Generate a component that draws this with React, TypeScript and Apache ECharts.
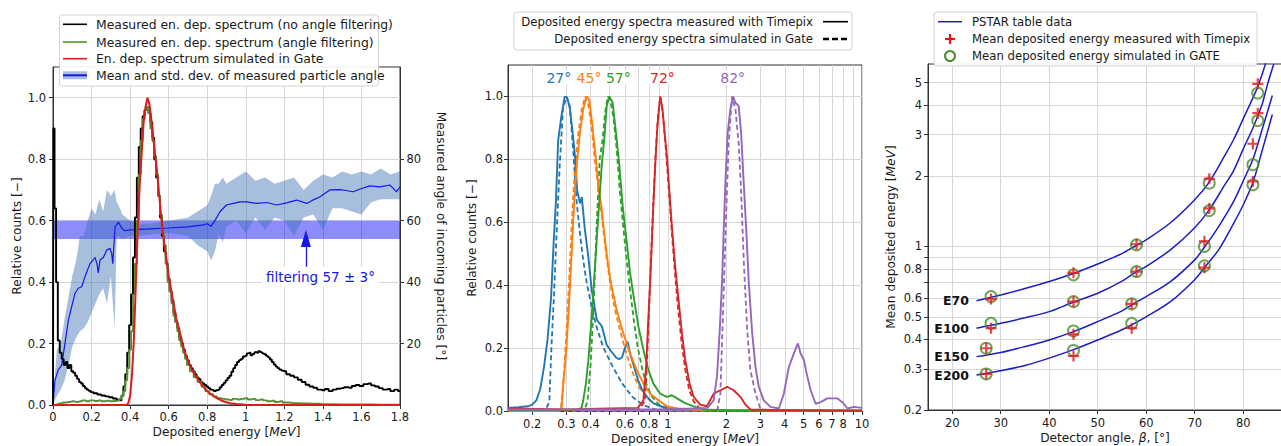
import React, { useEffect, useRef } from "react";
import * as echarts from "echarts";

const FONT = "DejaVu Sans";
const TXT = "#1a1a1a";
const GRIDC = "#d6d6d6";
const AX = "#333333";

// ---------------- Panel 1 data ----------------
const spectrumNoFilter: [number, number][] = [
  [0, 0], [0.004, 0.9], [0.012, 0.64], [0.02, 0.4], [0.03, 0.21], [0.04, 0.17], [0.05, 0.15], [0.06, 0.13], [0.07, 0.14], [0.08, 0.12],
  [0.09, 0.13], [0.1, 0.11], [0.11, 0.105], [0.12, 0.095], [0.13, 0.085], [0.14, 0.075], [0.15, 0.07], [0.16, 0.062], [0.17, 0.055], [0.18, 0.05],
  [0.19, 0.046], [0.2, 0.042], [0.22, 0.038], [0.24, 0.034], [0.26, 0.031], [0.28, 0.028], [0.3, 0.025], [0.32, 0.021], [0.34, 0.017], [0.35, 0.015],
  [0.36, 0.03], [0.37, 0.06], [0.38, 0.1], [0.39, 0.17], [0.4, 0.26], [0.41, 0.36], [0.42, 0.48], [0.43, 0.61], [0.44, 0.74], [0.45, 0.84],
  [0.46, 0.9], [0.47, 0.94], [0.48, 0.96], [0.49, 0.97], [0.5, 0.95], [0.51, 0.92], [0.52, 0.87], [0.53, 0.8], [0.54, 0.74], [0.55, 0.68],
  [0.56, 0.61], [0.57, 0.55], [0.58, 0.5], [0.59, 0.46], [0.6, 0.41], [0.61, 0.37], [0.62, 0.34], [0.63, 0.3], [0.64, 0.27], [0.65, 0.25],
  [0.66, 0.22], [0.67, 0.2], [0.68, 0.18], [0.69, 0.16], [0.7, 0.145], [0.71, 0.13], [0.72, 0.12], [0.73, 0.11], [0.74, 0.1], [0.75, 0.09],
  [0.76, 0.085], [0.77, 0.075], [0.78, 0.07], [0.79, 0.065], [0.8, 0.06], [0.81, 0.055], [0.82, 0.05], [0.83, 0.048], [0.84, 0.045], [0.85, 0.048],
  [0.86, 0.05], [0.87, 0.058], [0.88, 0.065], [0.89, 0.072], [0.9, 0.08], [0.91, 0.088], [0.92, 0.095], [0.93, 0.108], [0.94, 0.12], [0.95, 0.13],
  [0.96, 0.14], [0.97, 0.146], [0.98, 0.15], [0.99, 0.158], [1.0, 0.16], [1.01, 0.168], [1.02, 0.17], [1.03, 0.162], [1.04, 0.166], [1.05, 0.172],
  [1.06, 0.17], [1.07, 0.175], [1.08, 0.172], [1.09, 0.168], [1.1, 0.165], [1.11, 0.16], [1.12, 0.155], [1.13, 0.148], [1.14, 0.14], [1.15, 0.132],
  [1.16, 0.125], [1.17, 0.12], [1.18, 0.115], [1.19, 0.112], [1.2, 0.11], [1.22, 0.1], [1.24, 0.095], [1.26, 0.09], [1.28, 0.082], [1.3, 0.075],
  [1.32, 0.066], [1.34, 0.06], [1.36, 0.056], [1.38, 0.05], [1.4, 0.048], [1.42, 0.052], [1.44, 0.045], [1.46, 0.05], [1.48, 0.053], [1.5, 0.055],
  [1.52, 0.058], [1.54, 0.056], [1.56, 0.062], [1.58, 0.065], [1.6, 0.062], [1.62, 0.068], [1.64, 0.07], [1.66, 0.064], [1.68, 0.06], [1.7, 0.055],
  [1.72, 0.05], [1.74, 0.052], [1.76, 0.045], [1.78, 0.05], [1.8, 0.045],
];

const spectrumAngleFilter: [number, number][] = [
  [0, 0], [0.02, 0.002], [0.04, 0.005], [0.06, 0.008], [0.08, 0.01], [0.1, 0.012], [0.12, 0.01], [0.14, 0.012], [0.16, 0.015], [0.18, 0.012],
  [0.2, 0.015], [0.22, 0.013], [0.24, 0.015], [0.26, 0.012], [0.28, 0.014], [0.3, 0.012], [0.32, 0.013], [0.34, 0.015], [0.35, 0.02], [0.36, 0.03],
  [0.37, 0.045], [0.38, 0.08], [0.39, 0.12], [0.4, 0.18], [0.41, 0.24], [0.42, 0.36], [0.43, 0.46], [0.44, 0.6], [0.45, 0.75], [0.46, 0.86],
  [0.47, 0.93], [0.48, 0.96], [0.49, 0.97], [0.5, 0.95], [0.51, 0.9], [0.52, 0.86], [0.53, 0.81], [0.54, 0.75], [0.55, 0.68], [0.56, 0.62],
  [0.57, 0.56], [0.58, 0.52], [0.59, 0.46], [0.6, 0.4], [0.61, 0.37], [0.62, 0.33], [0.63, 0.29], [0.64, 0.27], [0.65, 0.24], [0.66, 0.21],
  [0.67, 0.19], [0.68, 0.17], [0.69, 0.15], [0.7, 0.13], [0.72, 0.11], [0.74, 0.09], [0.76, 0.075], [0.78, 0.06], [0.8, 0.045], [0.82, 0.035],
  [0.84, 0.028], [0.86, 0.022], [0.88, 0.02], [0.9, 0.018], [0.92, 0.016], [0.94, 0.02], [0.96, 0.018], [0.98, 0.02], [1.0, 0.022], [1.02, 0.018],
  [1.04, 0.02], [1.06, 0.016], [1.08, 0.018], [1.1, 0.015], [1.12, 0.012], [1.14, 0.014], [1.16, 0.01], [1.18, 0.012], [1.2, 0.008], [1.25, 0.006],
  [1.3, 0.005], [1.35, 0.004], [1.4, 0.003], [1.5, 0.002], [1.6, 0.002], [1.7, 0.001], [1.8, 0.001],
];

const spectrumSimulated: [number, number][] = [
  [0, 0], [0.38, 0], [0.39, 0.005], [0.4, 0.03], [0.41, 0.1], [0.42, 0.22], [0.43, 0.4], [0.44, 0.58], [0.45, 0.72], [0.46, 0.82],
  [0.47, 0.92], [0.48, 0.97], [0.49, 1.0], [0.5, 0.98], [0.51, 0.93], [0.52, 0.87], [0.53, 0.81], [0.54, 0.76], [0.55, 0.69], [0.56, 0.62],
  [0.57, 0.56], [0.58, 0.51], [0.59, 0.47], [0.6, 0.42], [0.62, 0.35], [0.64, 0.28], [0.66, 0.23], [0.68, 0.18], [0.7, 0.145], [0.72, 0.115],
  [0.74, 0.095], [0.76, 0.075], [0.78, 0.06], [0.8, 0.045], [0.82, 0.035], [0.84, 0.026], [0.86, 0.019], [0.88, 0.013], [0.9, 0.009], [0.92, 0.006],
  [0.95, 0.003], [1.0, 0.001], [1.05, 0], [1.8, 0],
];

const angleMean: [number, number][] = [
  [0, 0], [0.01, 8], [0.027, 11.4], [0.045, 13], [0.062, 20], [0.08, 27.7], [0.097, 32], [0.114, 36.3], [0.131, 38], [0.149, 38.5],
  [0.166, 41.8], [0.192, 46], [0.209, 47.2], [0.218, 48], [0.228, 46], [0.235, 43], [0.244, 47.2], [0.261, 48], [0.278, 50.4], [0.296, 51],
  [0.305, 49], [0.31, 46], [0.316, 52], [0.322, 58], [0.34, 59.5], [0.356, 57.6], [0.373, 56.7], [0.4, 57], [0.5, 57.3], [0.6, 57.6],
  [0.7, 58], [0.78, 58.6], [0.8, 59], [0.82, 58.2], [0.84, 60], [0.866, 62.9], [0.9, 65.1], [0.935, 65.6], [0.97, 66.1], [1.005, 66.1],
  [1.057, 65.6], [1.109, 65.9], [1.16, 65.1], [1.212, 65.8], [1.264, 66.7], [1.316, 65.6], [1.342, 66.5], [1.385, 67.8], [1.436, 70], [1.488, 70.1],
  [1.52, 69.8], [1.557, 69.4], [1.59, 70.2], [1.644, 71.3], [1.696, 71], [1.747, 71.6], [1.765, 70.5], [1.782, 69.4], [1.8, 71],
];

const angleBandE = [0, 0.02, 0.04, 0.06, 0.08, 0.1, 0.12, 0.14, 0.16, 0.18, 0.2, 0.22, 0.24, 0.26, 0.28, 0.3, 0.32, 0.33, 0.34, 0.36, 0.4, 0.45, 0.5, 0.6, 0.7, 0.75, 0.8, 0.82, 0.84, 0.86, 0.88, 0.9, 0.95, 1.0, 1.05, 1.1, 1.15, 1.2, 1.25, 1.3, 1.35, 1.4, 1.45, 1.5, 1.55, 1.6, 1.65, 1.7, 1.75, 1.8];
const angleBandUpper = [2, 18, 20, 28, 35, 42, 47, 55, 55, 60, 64, 62, 67, 63, 70, 68, 70, 66, 65, 62, 60, 59, 59, 60, 61, 63, 65, 68, 72, 72, 74, 72, 74, 76, 73, 74, 72, 73, 74, 70, 73, 75, 74, 76, 75, 76, 75, 77, 75, 76];
const angleBandLower = [0, 3, 5, 8, 13, 19, 22, 24, 25, 27, 30, 33, 36, 38, 33, 42, 25, 55, 55, 54, 55, 55, 55.5, 56, 55, 52, 50, 47, 50, 56, 53, 58, 60, 56, 61, 57, 61, 60, 55, 61, 62, 57, 64, 64, 63, 62, 66, 67, 67, 67];

const filterBand = [54, 60];
const p1XTicks = [0, 0.2, 0.4, 0.6, 0.8, 1, 1.2, 1.4, 1.6, 1.8];
const p1YTicks = [0, 0.2, 0.4, 0.6, 0.8, 1.0];
const p1AngleTicks = [20, 40, 60, 80];

// ---------------- Panel 2 data ----------------
const angleNames = ["27°", "45°", "57°", "72°", "82°"];
const angleColors = ["#1f77b4", "#ff7f0e", "#2ca02c", "#d62728", "#9467bd"];
const peakEnergies = [0.274, 0.392, 0.555, 0.937, 2.157];

const meas27: [number, number][] = [
  [0.15, 0.01], [0.17, 0.012], [0.19, 0.015], [0.2, 0.02], [0.21, 0.034], [0.22, 0.07], [0.23, 0.14], [0.24, 0.23], [0.25, 0.36], [0.258, 0.54],
  [0.265, 0.67], [0.272, 0.86], [0.283, 0.94], [0.294, 1.0], [0.303, 0.995], [0.313, 0.96], [0.323, 0.885], [0.332, 0.81], [0.341, 0.7], [0.352, 0.66],
  [0.36, 0.68], [0.373, 0.58], [0.389, 0.49], [0.405, 0.385], [0.43, 0.29], [0.456, 0.27], [0.47, 0.24], [0.484, 0.21], [0.51, 0.19], [0.54, 0.17],
  [0.56, 0.165], [0.58, 0.17], [0.6, 0.2], [0.62, 0.22], [0.64, 0.18], [0.67, 0.14], [0.7, 0.1], [0.74, 0.065], [0.78, 0.045], [0.84, 0.025],
  [0.92, 0.015], [1.0, 0.01], [1.2, 0.006], [1.5, 0.004], [2.0, 0.003], [3, 0.002], [5, 0.001], [10, 0.001],
];
const sim27: [number, number][] = [
  [0.15, 0], [0.22, 0], [0.235, 0.005], [0.245, 0.03], [0.251, 0.2], [0.258, 0.35], [0.267, 0.566], [0.277, 0.78], [0.288, 0.96], [0.3, 1.0],
  [0.312, 0.97], [0.325, 0.83], [0.338, 0.67], [0.352, 0.566], [0.366, 0.48], [0.381, 0.41], [0.405, 0.33], [0.429, 0.268], [0.463, 0.204], [0.52, 0.14],
  [0.582, 0.087], [0.656, 0.045], [0.74, 0.02], [0.86, 0.005], [1.0, 0], [10, 0],
];
const meas45: [number, number][] = [
  [0.15, 0], [0.27, 0], [0.283, 0.005], [0.289, 0.087], [0.3, 0.2], [0.31, 0.35], [0.319, 0.5], [0.328, 0.65], [0.339, 0.78], [0.352, 0.885],
  [0.366, 0.96], [0.381, 1.0], [0.393, 0.99], [0.405, 0.925], [0.421, 0.83], [0.438, 0.72], [0.456, 0.64], [0.474, 0.545], [0.493, 0.46], [0.513, 0.395],
  [0.545, 0.32], [0.589, 0.247], [0.638, 0.183], [0.691, 0.13], [0.748, 0.087], [0.81, 0.055], [0.894, 0.034], [0.988, 0.015], [1.11, 0.008], [1.5, 0.003],
  [10, 0.001],
];
const sim45: [number, number][] = [
  [0.15, 0], [0.28, 0], [0.29, 0.1], [0.3, 0.25], [0.31, 0.42], [0.32, 0.6], [0.33, 0.75], [0.345, 0.88], [0.36, 0.96], [0.375, 1.0],
  [0.39, 0.97], [0.405, 0.9], [0.42, 0.8], [0.44, 0.7], [0.46, 0.6], [0.48, 0.5], [0.5, 0.42], [0.53, 0.33], [0.57, 0.25], [0.62, 0.17],
  [0.67, 0.11], [0.72, 0.07], [0.8, 0.035], [0.9, 0.015], [1.0, 0.005], [1.2, 0], [10, 0],
];
const meas57: [number, number][] = [
  [0.15, 0.002], [0.34, 0.003], [0.359, 0.01], [0.366, 0.034], [0.378, 0.087], [0.389, 0.16], [0.405, 0.3], [0.421, 0.46], [0.438, 0.62], [0.456, 0.78],
  [0.47, 0.864], [0.484, 0.97], [0.499, 1.0], [0.519, 0.98], [0.54, 0.885], [0.562, 0.78], [0.585, 0.65], [0.614, 0.535], [0.638, 0.44], [0.67, 0.353],
  [0.705, 0.268], [0.748, 0.194], [0.794, 0.13], [0.842, 0.087], [0.912, 0.055], [0.988, 0.045], [1.048, 0.05], [1.113, 0.04], [1.228, 0.025], [1.356, 0.015],
  [1.527, 0.005], [2, 0.002], [10, 0.001],
];
const sim57: [number, number][] = [
  [0.15, 0], [0.37, 0], [0.385, 0.03], [0.4, 0.15], [0.415, 0.35], [0.43, 0.6], [0.445, 0.8], [0.46, 0.86], [0.475, 0.95], [0.49, 1.0],
  [0.505, 0.99], [0.525, 0.93], [0.545, 0.83], [0.565, 0.7], [0.59, 0.58], [0.615, 0.47], [0.64, 0.38], [0.67, 0.28], [0.7, 0.2], [0.74, 0.13],
  [0.78, 0.08], [0.83, 0.045], [0.9, 0.02], [1.0, 0.005], [1.1, 0], [10, 0],
];
const meas72: [number, number][] = [
  [0.15, 0.008], [0.3, 0.005], [0.5, 0.008], [0.7, 0.01], [0.748, 0.034], [0.772, 0.14], [0.794, 0.3], [0.817, 0.46], [0.837, 0.62], [0.86, 0.78],
  [0.883, 0.906], [0.912, 1.0], [0.9375, 0.96], [0.96, 0.89], [0.988, 0.81], [1.019, 0.694], [1.048, 0.587], [1.09, 0.46], [1.134, 0.353], [1.181, 0.247],
  [1.228, 0.162], [1.293, 0.087], [1.356, 0.045], [1.468, 0.02], [1.59, 0.015], [1.72, 0.055], [1.863, 0.066], [2.018, 0.077], [2.18, 0.066], [2.364, 0.045],
  [2.51, 0.02], [2.66, 0.005], [3.5, 0.003], [10, 0.001],
];
const sim72: [number, number][] = [
  [0.15, 0], [0.7, 0], [0.76, 0.03], [0.78, 0.15], [0.8, 0.33], [0.82, 0.5], [0.84, 0.66], [0.865, 0.82], [0.89, 0.94], [0.915, 1.0],
  [0.94, 0.95], [0.965, 0.87], [0.99, 0.78], [1.02, 0.67], [1.05, 0.56], [1.09, 0.43], [1.13, 0.32], [1.18, 0.21], [1.23, 0.13], [1.29, 0.065],
  [1.36, 0.03], [1.45, 0.01], [1.6, 0.002], [2, 0], [10, 0],
];
const meas82: [number, number][] = [
  [0.15, 0.005], [1.0, 0.005], [1.6, 0.01], [1.72, 0.034], [1.79, 0.11], [1.847, 0.25], [1.9, 0.41], [1.937, 0.566], [1.977, 0.725], [2.032, 0.885],
  [2.099, 0.96], [2.166, 1.0], [2.227, 0.98], [2.316, 0.97], [2.383, 0.885], [2.458, 0.725], [2.538, 0.566], [2.609, 0.41], [2.716, 0.25], [2.826, 0.14],
  [2.939, 0.077], [3.119, 0.034], [3.378, 0.013], [3.727, 0.008], [3.957, 0.055], [4.199, 0.14], [4.457, 0.183], [4.674, 0.215], [4.827, 0.183], [5.019, 0.162],
  [5.226, 0.11], [5.438, 0.066], [5.77, 0.023], [6.123, 0.028], [6.632, 0.04], [7.47, 0.04], [7.93, 0.028], [8.41, 0.008], [9.1, 0.013], [10, 0.01],
];
const sim82: [number, number][] = [
  [0.15, 0], [1.5, 0], [1.8, 0.005], [1.863, 0.056], [1.937, 0.375], [2.0, 0.64], [2.057, 0.854], [2.14, 1.0], [2.227, 0.96], [2.316, 0.85],
  [2.383, 0.7], [2.458, 0.48], [2.56, 0.26], [2.66, 0.13], [2.826, 0.056], [3.0, 0.005], [3.5, 0], [10, 0],
];
const measuredSpectra = [meas27, meas45, meas57, meas72, meas82];
const simulatedSpectra = [sim27, sim45, sim57, sim72, sim82];
const p2GridE = [0.2, 0.3, 0.4, 0.5, 0.6, 0.7, 0.8, 0.9, 1, 2, 3, 4, 5, 6, 7, 8, 9, 10];
const p2LabelE = [0.2, 0.3, 0.4, 0.6, 0.8, 1, 2, 3, 4, 5, 6, 7, 8, 10];

// ---------------- Panel 3 data ----------------
const curveNames = ["E70", "E100", "E150", "E200"];
const pstarE70: [number, number][] = [
  [25, 0.585], [30, 0.62], [35, 0.66], [40, 0.707], [45, 0.765], [50, 0.84], [55, 0.93], [58, 1.01], [60, 1.065], [65, 1.26],
  [70, 1.58], [73, 1.88], [76, 2.4], [78, 2.85], [80, 3.5], [82, 4.3], [83, 4.8], [84, 5.5], [84.8, 6.2],
];
const pstarE100: [number, number][] = [
  [25, 0.447], [30, 0.469], [35, 0.495], [40, 0.526], [45, 0.578], [50, 0.63], [55, 0.71], [58, 0.78], [60, 0.82], [65, 0.966],
  [70, 1.2], [73, 1.43], [76, 1.8], [78, 2.1], [80, 2.6], [82, 3.2], [83, 3.6], [84, 4.1], [85, 4.9], [86.3, 6.0],
];
const pstarE150: [number, number][] = [
  [25, 0.338], [30, 0.352], [35, 0.373], [40, 0.398], [45, 0.432], [50, 0.477], [55, 0.53], [57, 0.562], [60, 0.61], [65, 0.707],
  [70, 0.875], [72, 0.99], [75, 1.22], [78, 1.55], [80, 1.9], [82, 2.35], [84, 3.2], [86, 4.4],
];
const pstarE200: [number, number][] = [
  [25, 0.282], [30, 0.294], [35, 0.31], [40, 0.333], [45, 0.362], [50, 0.398], [55, 0.44], [57, 0.462], [60, 0.5], [65, 0.58],
  [70, 0.72], [72, 0.81], [75, 0.97], [78, 1.25], [80, 1.5], [82, 1.87], [84, 2.6], [86, 3.65],
];
const pstarCurves = [pstarE70, pstarE100, pstarE150, pstarE200];

const measuredMean: [number, number][] = [
  [28, 0.595], [45, 0.77], [58, 1.02], [73, 1.94], [83, 4.94],
  [28, 0.447], [45, 0.58], [58, 0.78], [73, 1.45], [83, 3.7],
  [27, 0.367], [45, 0.421], [57, 0.568], [72, 1.05], [82, 2.74],
  [27, 0.285], [45, 0.34], [57, 0.447], [72, 0.81], [82, 1.89],
];
const simulatedMean: [number, number][] = [
  [28, 0.61], [45, 0.755], [58, 1.014], [73, 1.86], [83, 4.51],
  [28, 0.469], [45, 0.58], [58, 0.78], [73, 1.42], [83, 3.44],
  [27, 0.367], [45, 0.435], [57, 0.568], [72, 0.998], [82, 2.23],
  [27, 0.285], [45, 0.359], [57, 0.469], [72, 0.825], [82, 1.83],
];
const p3XTicks = [20, 30, 40, 50, 60, 70, 80];
const p3GridE = [0.2, 0.3, 0.4, 0.5, 0.6, 0.7, 0.8, 0.9, 1, 2, 3, 4, 5];
const p3LabelE = [0.2, 0.3, 0.4, 0.5, 0.6, 0.8, 1, 2, 3, 4, 5];

// ---------------- helpers ----------------
const lg = (v: number) => Math.log10(v);
const fmtLog = (v: number) => {
  const e = Math.pow(10, v);
  if (e < 0.95) return String(Math.round(e * 10) / 10);
  return String(Math.round(e));
};
const tickLabel = (extra: any = {}) => ({ fontFamily: FONT, fontSize: 11.5, color: TXT, ...extra });
const nameStyle = {
  fontFamily: FONT,
  fontSize: 12.2,
  color: TXT,
  rich: {
    a: { fontFamily: FONT, fontSize: 12.2, color: TXT },
    b: { fontFamily: FONT, fontSize: 12.2, color: TXT, fontStyle: "italic" },
  },
};
const axisCommon = {
  type: "value",
  axisLine: { show: true, onZero: false, lineStyle: { color: AX, width: 1 } },
  nameLocation: "middle",
  nameTextStyle: nameStyle,
  nameMoveOverlap: false,
};

function buildOption(): any {
  const P1_BLUE = "#1616e8";
  const series: any[] = [];

  // ---- Panel 1 ----
  series.push({
    type: "custom",
    xAxisIndex: 0,
    yAxisIndex: 1,
    z: 1,
    silent: true,
    data: [[0, 0]],
    renderItem: (params: any, api: any) => {
      if (params.dataIndex !== 0) return null;
      const pts: number[][] = [];
      for (let i = 0; i < angleBandE.length; i++) pts.push(api.coord([angleBandE[i], angleBandUpper[i]]));
      for (let i = angleBandE.length - 1; i >= 0; i--) pts.push(api.coord([angleBandE[i], angleBandLower[i]]));
      return { type: "polygon", shape: { points: pts }, style: { fill: "rgba(60,110,180,0.45)" } };
    },
  });
  series.push({
    type: "line",
    name: "angle",
    xAxisIndex: 0,
    yAxisIndex: 1,
    z: 3,
    symbol: "none",
    data: angleMean,
    lineStyle: { color: P1_BLUE, width: 1.2 },
    markArea: {
      silent: true,
      itemStyle: { color: "rgba(0,0,255,0.45)" },
      data: [[{ yAxis: filterBand[0] }, { yAxis: filterBand[1] }]],
    },
    markLine: {
      silent: true,
      symbol: ["none", "triangle"],
      symbolSize: [10, 17],
      lineStyle: { color: P1_BLUE, width: 1.3, type: "solid" },
      label: { show: false },
      data: [[{ coord: [1.312, 44.5] }, { coord: [1.312, 54.2] }]],
    },
    markPoint: {
      silent: true,
      data: [
        {
          coord: [1.387, 41.75],
          symbol: "rect",
          symbolSize: 1,
          itemStyle: { color: "rgba(0,0,0,0)" },
          label: {
            show: true,
            position: "inside",
            formatter: "filtering 57 ± 3°",
            color: P1_BLUE,
            fontFamily: FONT,
            fontSize: 13.5,
            backgroundColor: "#ffffff",
            padding: [3, 4],
          },
        },
      ],
    },
  });
  series.push({
    type: "line", xAxisIndex: 0, yAxisIndex: 0, z: 4, symbol: "none", step: "middle",
    data: spectrumNoFilter, lineStyle: { color: "#000000", width: 1.9 },
  });
  series.push({
    type: "line", xAxisIndex: 0, yAxisIndex: 0, z: 5, symbol: "none", step: "middle",
    data: spectrumAngleFilter, lineStyle: { color: "#4f9330", width: 1.9 },
  });
  series.push({
    type: "line", xAxisIndex: 0, yAxisIndex: 0, z: 6, symbol: "none",
    data: spectrumSimulated, lineStyle: { color: "#e0191b", width: 2 },
  });

  // ---- Panel 2 ----
  for (let i = 0; i < 5; i++) {
    const col = angleColors[i];
    series.push({
      type: "line", xAxisIndex: 1, yAxisIndex: 2, z: 3, symbol: "none",
      data: simulatedSpectra[i].map(([e, v]) => [lg(e), v]),
      lineStyle: { color: col, width: 1.8, type: [5, 3] },
    });
    series.push({
      type: "line", xAxisIndex: 1, yAxisIndex: 2, z: 4, symbol: "none",
      data: measuredSpectra[i].map(([e, v]) => [lg(e), v]),
      lineStyle: { color: col, width: 1.9 },
      markPoint: {
        silent: true,
        data: [
          {
            coord: [lg(peakEnergies[i]), 1.06],
            symbol: "rect",
            symbolSize: 1,
            itemStyle: { color: "rgba(0,0,0,0)" },
            label: {
              show: true, position: "inside", formatter: angleNames[i], color: col,
              fontFamily: FONT, fontSize: 14, backgroundColor: "#ffffff", padding: [0, 1],
            },
          },
        ],
      },
    });
  }

  // ---- Panel 3 ----
  const startVals = pstarCurves.map((c) => c[0]);
  for (let i = 0; i < 4; i++) {
    series.push({
      type: "line", xAxisIndex: 2, yAxisIndex: 3, z: 3, symbol: "none", smooth: 0.3,
      data: pstarCurves[i].map(([a, e]) => [a, lg(e)]),
      lineStyle: { color: "#1c1cc8", width: 1.5 },
      markPoint: {
        silent: true,
        data: [
          {
            coord: [startVals[i][0], lg(startVals[i][1])],
            symbol: "rect",
            symbolSize: 1,
            itemStyle: { color: "rgba(0,0,0,0)" },
            label: {
              show: true, position: "left", distance: 7, formatter: curveNames[i], color: "#111",
              fontFamily: FONT, fontSize: 12.5, fontWeight: "bold",
            },
          },
        ],
      },
    });
  }
  series.push({
    type: "scatter", xAxisIndex: 2, yAxisIndex: 3, z: 4,
    data: simulatedMean.map(([a, e]) => [a, lg(e)]),
    symbol: "circle", symbolSize: 11,
    itemStyle: { color: "rgba(0,0,0,0)", borderColor: "#4c8f2e", borderWidth: 2 },
  });
  series.push({
    type: "scatter", xAxisIndex: 2, yAxisIndex: 3, z: 5,
    data: measuredMean.map(([a, e]) => [a, lg(e)]),
    symbol: "path://M4,0 L6,0 L6,4 L10,4 L10,6 L6,6 L6,10 L4,10 L4,6 L0,6 L0,4 L4,4 Z",
    symbolSize: 11,
    itemStyle: { color: "#e8141b" },
  });

  // ---- legends (graphic) ----
  const g: any[] = [];
  const txt = (x: number, y: number, text: string, align = "left", size = 11.7) => ({
    type: "text", x, y, z: 101,
    style: { text, fontFamily: FONT, fontSize: size, fill: TXT, align, verticalAlign: "middle" },
  });
  const ln = (x1: number, y1: number, x2: number, y2: number, stroke: string, lineWidth: number, lineDash?: number[]) => ({
    type: "line", z: 101, shape: { x1, y1, x2, y2 }, style: { stroke, lineWidth, lineDash },
  });
  const box = (x: number, y: number, w: number, h: number) => ({
    type: "rect", z: 100, shape: { x, y, width: w, height: h, r: 3 },
    style: { fill: "rgba(255,255,255,0.92)", stroke: "#d2d2d2", lineWidth: 1 },
  });
  // panel 1
  g.push(box(59.5, 15, 319, 71));
  const r1 = [24.3, 42, 58.7, 75.3];
  g.push(ln(63, r1[0], 87, r1[0], "#000", 1.6));
  g.push(ln(63, r1[1], 87, r1[1], "#4f9330", 1.6));
  g.push(ln(63, r1[2], 87, r1[2], "#e0191b", 1.6));
  g.push({ type: "rect", z: 101, shape: { x: 63, y: r1[3] - 4, width: 24, height: 8 }, style: { fill: "rgba(60,110,180,0.45)" } });
  g.push(ln(63, r1[3], 87, r1[3], P1_BLUE, 2));
  g.push(txt(96, r1[0], "Measured en. dep. spectrum (no angle filtering)", "left", 12.4));
  g.push(txt(96, r1[1], "Measured en. dep. spectrum (angle filtering)", "left", 12.4));
  g.push(txt(96, r1[2], "En. dep. spectrum simulated in Gate", "left", 12.4));
  g.push(txt(96, r1[3], "Mean and std. dev. of measured particle angle", "left", 12.4));
  // panel 2
  g.push(box(514, 12, 338, 38));
  g.push(txt(813, 21.7, "Deposited energy spectra measured with Timepix", "right"));
  g.push(txt(813, 39, "Deposited energy spectra simulated in Gate", "right"));
  g.push(ln(823, 21.7, 848, 21.7, "#000", 1.6));
  g.push(ln(823, 39, 848, 39, "#000", 2.4, [6, 3]));
  // panel 3
  g.push(box(934, 12, 323, 54));
  g.push(ln(938, 21.7, 962, 21.7, "#1c1cc8", 1.5));
  g.push(ln(945, 39, 955, 39, "#e8141b", 2.2));
  g.push(ln(950, 34, 950, 44, "#e8141b", 2.2));
  g.push({ type: "circle", z: 101, shape: { cx: 950, cy: 56, r: 5 }, style: { fill: "none", stroke: "#4c8f2e", lineWidth: 2 } });
  g.push(txt(972, 21.7, "PSTAR table data"));
  g.push(txt(972, 39, "Mean deposited energy measured with Timepix"));
  g.push(txt(972, 56, "Mean deposited energy simulated in GATE"));

  const gridBase = { show: true, borderColor: AX, borderWidth: 1, backgroundColor: "rgba(0,0,0,0)", containLabel: false, outerBoundsMode: "none" };

  return {
    animation: false,
    backgroundColor: "#ffffff",
    textStyle: { fontFamily: FONT },
    grid: [
      { ...gridBase, left: 53, top: 67, width: 347, height: 338 },
      { ...gridBase, left: 508, top: 65, width: 354, height: 346 },
      { ...gridBase, left: 928, top: 64, width: 354, height: 346 },
    ],
    xAxis: [
      {
        ...axisCommon, gridIndex: 0, min: 0, max: 1.8,
        axisTick: { show: true, length: 4, lineStyle: { color: AX }, customValues: p1XTicks },
        axisLabel: tickLabel({ customValues: p1XTicks, margin: 6, formatter: (v: number) => String(parseFloat(v.toFixed(2))) }),
        splitLine: { show: true, lineStyle: { color: GRIDC, width: 1 } },
        name: "{a|Deposited energy [}{b|MeV}{a|]}", nameGap: 21,
      },
      {
        ...axisCommon, gridIndex: 1, min: lg(0.15), max: 1,
        axisTick: { show: true, length: 4, lineStyle: { color: AX }, customValues: p2GridE.map(lg) },
        axisLabel: tickLabel({ customValues: p2LabelE.map(lg), margin: 6.5, formatter: fmtLog }),
        splitLine: { show: true, lineStyle: { color: GRIDC, width: 1 } },
        name: "{a|Deposited energy [}{b|MeV}{a|]}", nameGap: 22,
      },
      {
        ...axisCommon, gridIndex: 2, min: 15, max: 88,
        axisTick: { show: true, length: 4, lineStyle: { color: AX }, customValues: p3XTicks },
        axisLabel: tickLabel({ customValues: p3XTicks, margin: 6.5 }),
        splitLine: { show: true, lineStyle: { color: GRIDC, width: 1 } },
        name: "{a|Detector angle, }{b|β}{a|, [°]}", nameGap: 22,
      },
    ],
    yAxis: [
      {
        ...axisCommon, gridIndex: 0, min: 0, max: 1.1, position: "left",
        axisTick: { show: true, length: 4, lineStyle: { color: AX }, customValues: p1YTicks },
        axisLabel: tickLabel({ customValues: p1YTicks, margin: 7, formatter: (v: number) => v.toFixed(1) }),
        splitLine: { show: true, lineStyle: { color: GRIDC, width: 1 } },
        name: "Relative counts [−]", nameRotate: 90, nameGap: 30,
      },
      {
        ...axisCommon, gridIndex: 0, min: 0, max: 110, position: "right",
        axisTick: { show: true, length: 4, lineStyle: { color: AX }, customValues: p1AngleTicks },
        axisLabel: tickLabel({ customValues: p1AngleTicks, margin: 6.5 }),
        splitLine: { show: false },
        name: "Measured angle of incoming particles [°]", nameRotate: -90, nameGap: 35,
      },
      {
        ...axisCommon, gridIndex: 1, min: 0, max: 1.1, position: "left",
        axisTick: { show: true, length: 4, lineStyle: { color: AX }, customValues: p1YTicks },
        axisLabel: tickLabel({ customValues: p1YTicks, margin: 5, formatter: (v: number) => v.toFixed(1) }),
        splitLine: { show: true, lineStyle: { color: GRIDC, width: 1 } },
        name: "Relative counts [−]", nameRotate: 90, nameGap: 30,
      },
      {
        ...axisCommon, gridIndex: 2, min: lg(0.2), max: lg(6), position: "left",
        axisTick: { show: true, length: 4, lineStyle: { color: AX }, customValues: p3GridE.map(lg) },
        axisLabel: tickLabel({ customValues: p3LabelE.map(lg), margin: 6, formatter: fmtLog }),
        splitLine: { show: true, lineStyle: { color: GRIDC, width: 1 } },
        name: "{a|Mean deposited energy [}{b|MeV}{a|]}", nameRotate: 90, nameGap: 31,
      },
    ],
    series,
    graphic: { elements: g },
  };
}

export default function App() {
  const ref = useRef<HTMLDivElement>(null);
  useEffect(() => {
    document.body.style.margin = "0";
    const chart = echarts.init(ref.current as HTMLDivElement, null, { renderer: "svg" });
    chart.setOption(buildOption());
    return () => chart.dispose();
  }, []);
  return <div ref={ref} style={{ width: 1281, height: 446 }} />;
}
